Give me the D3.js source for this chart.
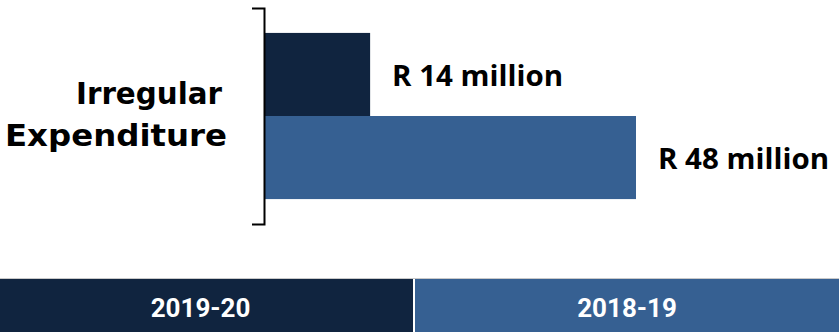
<!DOCTYPE html>
<html>
<head>
<meta charset="utf-8">
<script src="https://cdn.jsdelivr.net/npm/d3@7"></script>
<style>
  body { margin: 0; background: #fff; }
  svg { display: block; }
  text { font-weight: bold; }
</style>
</head>
<body>
<div id="chart"></div>
<script>
// data
var years = ['2019-20', '2018-19'];
var amounts = [13.6, 48];        // R million, as the bar lengths show
var value_labels = ['R 14 million', 'R 48 million'];
var colours = ['#10243f', '#366092'];
var axis_title = ['Irregular', 'Expenditure'];

var width = 839, height = 332;
var split = 414;   // where the two legend boxes meet

var svg = d3.select('#chart')
  .append('svg')
  .attr('width', width)
  .attr('height', height);

var y = d3.scaleBand()
  .domain(years)
  .range([8, 224])
  .paddingInner(0)
  .paddingOuter(0.3);

var x = d3.scaleLinear()
  .domain([0, 48])
  .range([265, 636]);

// bars
svg.selectAll('rect.bar')
  .data(years)
  .enter()
  .append('rect')
  .attr('class', 'bar')
  .attr('x', x(0))
  .attr('y', function(d){ return y(d); })
  .attr('width', function(d, i){ return x(amounts[i]) - x(0); })
  .attr('height', y.bandwidth())
  .attr('fill', function(d, i){ return colours[i]; });

// value labels
svg.selectAll('text.val')
  .data(years)
  .enter()
  .append('text')
  .attr('class', 'val')
  .attr('x', function(d, i){ return x(amounts[i]) + 22; })
  .attr('y', function(d){ return y(d) + y.bandwidth() / 2 + 11.5; })
  .attr('font-family', '"Open Sans", sans-serif')
  .attr('font-size', 29)
  .attr('textLength', 171)
  .attr('lengthAdjust', 'spacingAndGlyphs')
  .attr('fill', '#000')
  .text(function(d, i){ return value_labels[i]; });

// axis with only the end ticks
var axis = svg.append('g')
  .attr('transform', 'translate(264,0)')
  .call(d3.axisLeft(y).tickSizeInner(0).tickSizeOuter(12).tickFormat(''));
axis.select('.domain').attr('stroke', '#000').attr('stroke-width', 2);
axis.selectAll('.tick').remove();

// axis title
svg.append('text')
  .attr('text-anchor', 'end')
  .attr('font-family', '"DejaVu Sans", sans-serif')
  .attr('font-size', 31)
  .attr('fill', '#000')
  .selectAll('tspan')
  .data(axis_title)
  .enter()
  .append('tspan')
  .attr('x', function(d, i){ return i === 0 ? 222 : 227; })
  .attr('y', function(d, i){ return 104 + i * 42; })
  .attr('textLength', function(d, i){ return i === 0 ? 146 : 222; })
  .attr('lengthAdjust', 'spacingAndGlyphs')
  .text(function(d){ return d; });

// legend strip
var bounds = [[0, split - 1], [split + 1, width]];

svg.append('line')
  .attr('x1', 0).attr('x2', width)
  .attr('y1', 278.5).attr('y2', 278.5)
  .attr('stroke', '#c9c9c9');

svg.selectAll('rect.leg')
  .data(years)
  .enter()
  .append('rect')
  .attr('class', 'leg')
  .attr('x', function(d, i){ return bounds[i][0]; })
  .attr('y', 279)
  .attr('width', function(d, i){ return bounds[i][1] - bounds[i][0]; })
  .attr('height', height - 279)
  .attr('fill', function(d, i){ return colours[i]; });

svg.selectAll('text.leg')
  .data(years)
  .enter()
  .append('text')
  .attr('class', 'leg')
  .attr('x', function(d, i){ return (bounds[i][0] + bounds[i][1]) / 2 - (i === 0 ? 6 : 0); })
  .attr('y', 317)
  .attr('text-anchor', 'middle')
  .attr('font-family', 'Roboto, sans-serif')
  .attr('font-size', 26)
  .attr('fill', '#fff')
  .text(function(d){ return d; });
</script>
</body>
</html>
